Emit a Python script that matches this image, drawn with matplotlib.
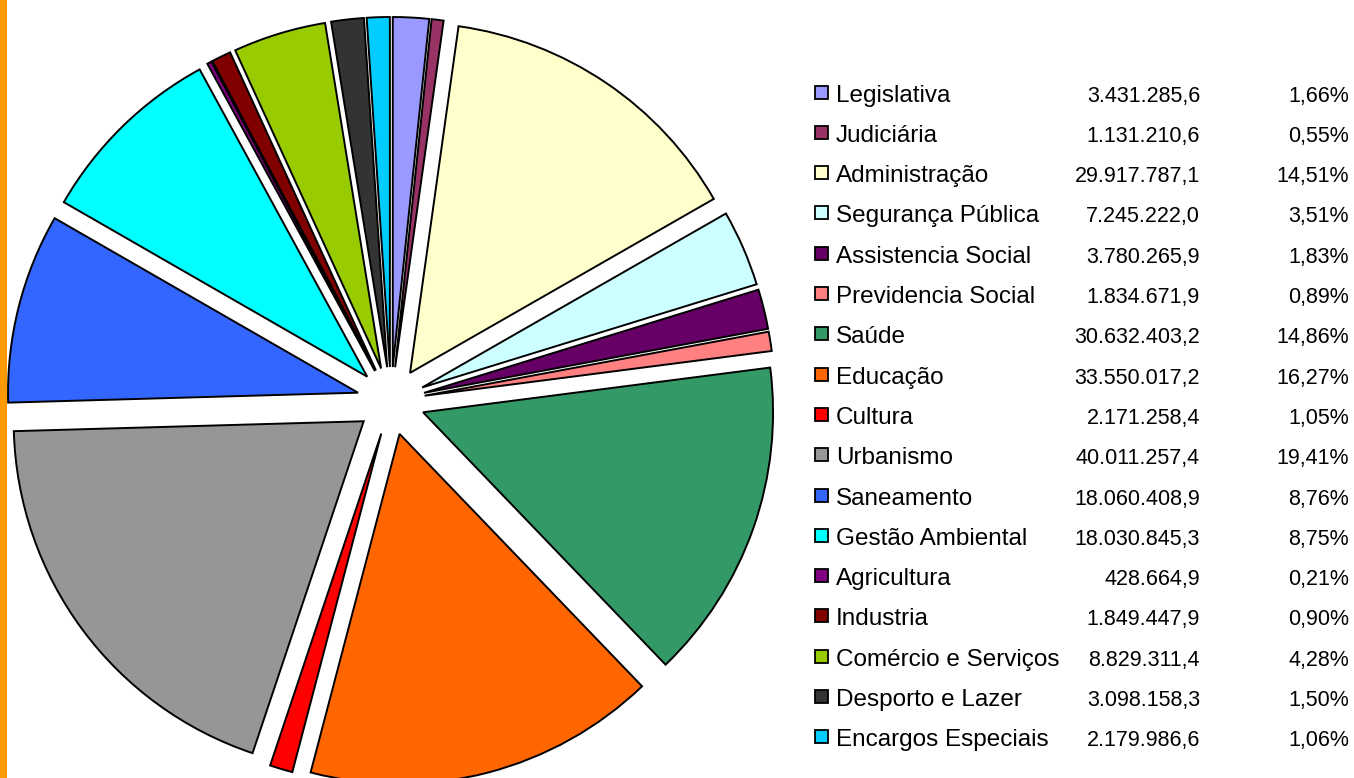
import matplotlib
matplotlib.use('Agg')
import matplotlib.pyplot as plt
from matplotlib.patches import Rectangle

funcoes = ['Legislativa', 'Judiciária', 'Administração', 'Segurança Pública',
           'Assistencia Social', 'Previdencia Social', 'Saúde', 'Educação',
           'Cultura', 'Urbanismo', 'Saneamento', 'Gestão Ambiental',
           'Agricultura', 'Industria', 'Comércio e Serviços',
           'Desporto e Lazer', 'Encargos Especiais']
valores = [3431285.6, 1131210.6, 29917787.1, 7245222.0, 3780265.9, 1834671.9,
           30632403.2, 33550017.2, 2171258.4, 40011257.4, 18060408.9,
           18030845.3, 428664.9, 1849447.9, 8829311.4, 3098158.3, 2179986.6]
cores = ['#9999FF', '#993366', '#FFFFCC', '#CCFFFF', '#660066', '#FF8080',
         '#339966', '#FF6600', '#FF0000', '#969696', '#3366FF', '#00FFFF',
         '#800080', '#800000', '#99CC00', '#333333', '#00CCFF']


def br(v, casas):
    # 1,234.5 -> 1.234,5
    s = f"{v:,.{casas}f}"
    return s.replace(',', '#').replace('.', ',').replace('#', '.')


W, H = 1354, 778
fig = plt.figure(figsize=(W / 100, H / 100), dpi=100)
ax = fig.add_axes([0, 0, 1, 1])

ax.pie(valores, colors=cores, startangle=90, counterclock=False,
       explode=[34] * len(valores), center=(391, H - 401), radius=350,
       wedgeprops=dict(edgecolor='black', linewidth=1.4))
ax.set_xlim(0, W)
ax.set_ylim(0, H)
ax.set_aspect('equal')
ax.axis('off')

# faixa laranja na borda esquerda
ax.add_patch(Rectangle((0, 0), 7, H, facecolor='#FF9900', edgecolor='none'))

total = sum(valores)
fonte = 'Liberation Sans'
for i, (nome, v, c) in enumerate(zip(funcoes, valores, cores)):
    yc = 92 + i * 40.3
    ax.add_patch(Rectangle((815, H - yc - 6.5), 13, 13, facecolor=c,
                           edgecolor='black', linewidth=1.3))
    base = H - (yc + 9.5)
    ax.text(836, base, nome, fontsize=17.5, family=fonte, va='baseline')
    ax.text(1200, base, br(v, 1), fontsize=15.5, family=fonte,
            va='baseline', ha='right')
    ax.text(1349, base, br(v / total * 100, 2) + '%', fontsize=15.5,
            family=fonte, va='baseline', ha='right')

fig.savefig('out.png', dpi=100)
